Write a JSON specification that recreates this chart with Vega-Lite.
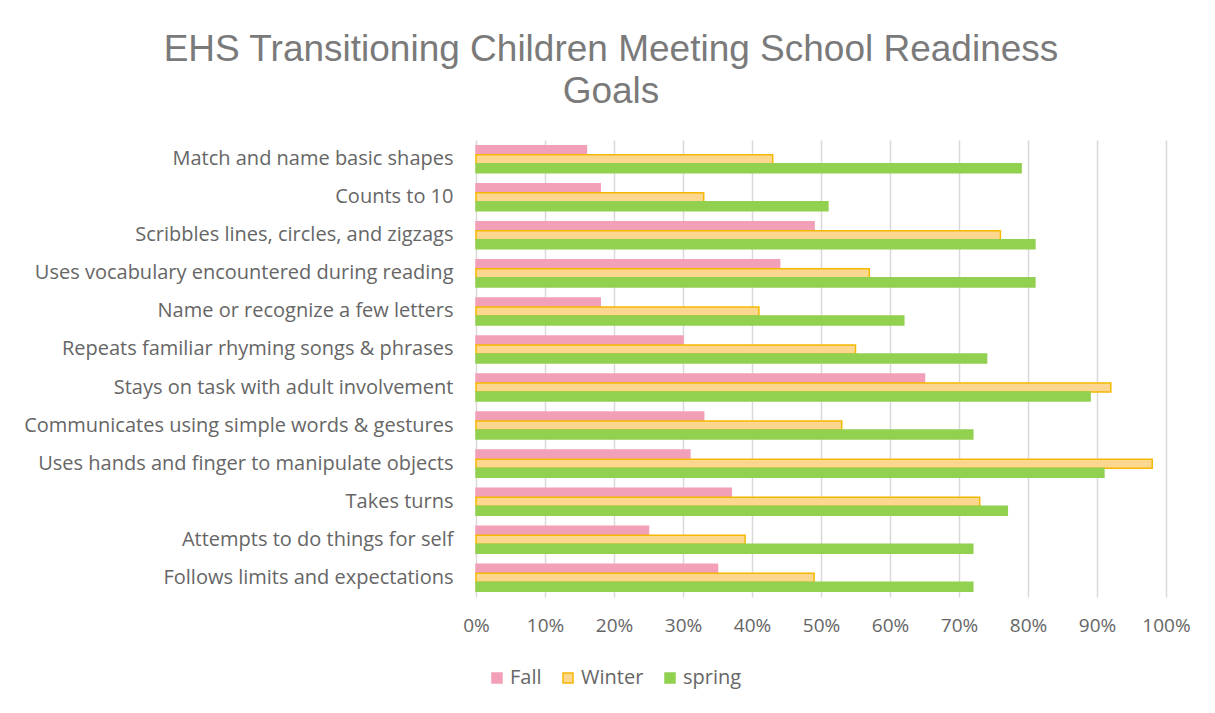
{
  "$schema": "https://vega.github.io/schema/vega-lite/v6.json",
  "width": 690,
  "height": 457,
  "autosize": {"type": "none"},
  "padding": {"left": 476, "top": 140, "right": 49, "bottom": 116},
  "background": "white",
  "title": {
    "text": ["EHS Transitioning Children Meeting School Readiness", "Goals"],
    "anchor": "middle",
    "frame": "group",
    "dx": -210,
    "offset": 29,
    "font": "Liberation Sans",
    "fontSize": 37,
    "fontWeight": "normal",
    "color": "#7a7a7a",
    "lineHeight": 42
  },
  "config": {
    "view": {"stroke": null},
    "axis": {"labelFont": "Open Sans", "labelFontSize": 20, "labelColor": "#666666"},
    "legend": {"labelFont": "Open Sans", "labelFontSize": 20, "labelColor": "#666666"}
  },
  "data": {
    "values": [
      {"skill": "Match and name basic shapes", "season": "Fall", "value": 0.16},
      {"skill": "Match and name basic shapes", "season": "Winter", "value": 0.43},
      {"skill": "Match and name basic shapes", "season": "spring", "value": 0.79},
      {"skill": "Counts to 10", "season": "Fall", "value": 0.18},
      {"skill": "Counts to 10", "season": "Winter", "value": 0.33},
      {"skill": "Counts to 10", "season": "spring", "value": 0.51},
      {"skill": "Scribbles lines, circles, and zigzags", "season": "Fall", "value": 0.49},
      {"skill": "Scribbles lines, circles, and zigzags", "season": "Winter", "value": 0.76},
      {"skill": "Scribbles lines, circles, and zigzags", "season": "spring", "value": 0.81},
      {"skill": "Uses vocabulary encountered during reading", "season": "Fall", "value": 0.44},
      {"skill": "Uses vocabulary encountered during reading", "season": "Winter", "value": 0.57},
      {"skill": "Uses vocabulary encountered during reading", "season": "spring", "value": 0.81},
      {"skill": "Name or recognize a few letters", "season": "Fall", "value": 0.18},
      {"skill": "Name or recognize a few letters", "season": "Winter", "value": 0.41},
      {"skill": "Name or recognize a few letters", "season": "spring", "value": 0.62},
      {"skill": "Repeats familiar rhyming songs & phrases", "season": "Fall", "value": 0.30},
      {"skill": "Repeats familiar rhyming songs & phrases", "season": "Winter", "value": 0.55},
      {"skill": "Repeats familiar rhyming songs & phrases", "season": "spring", "value": 0.74},
      {"skill": "Stays on task with adult involvement", "season": "Fall", "value": 0.65},
      {"skill": "Stays on task with adult involvement", "season": "Winter", "value": 0.92},
      {"skill": "Stays on task with adult involvement", "season": "spring", "value": 0.89},
      {"skill": "Communicates using simple words & gestures", "season": "Fall", "value": 0.33},
      {"skill": "Communicates using simple words & gestures", "season": "Winter", "value": 0.53},
      {"skill": "Communicates using simple words & gestures", "season": "spring", "value": 0.72},
      {"skill": "Uses hands and finger to manipulate objects", "season": "Fall", "value": 0.31},
      {"skill": "Uses hands and finger to manipulate objects", "season": "Winter", "value": 0.98},
      {"skill": "Uses hands and finger to manipulate objects", "season": "spring", "value": 0.91},
      {"skill": "Takes turns", "season": "Fall", "value": 0.37},
      {"skill": "Takes turns", "season": "Winter", "value": 0.73},
      {"skill": "Takes turns", "season": "spring", "value": 0.77},
      {"skill": "Attempts to do things for self", "season": "Fall", "value": 0.25},
      {"skill": "Attempts to do things for self", "season": "Winter", "value": 0.39},
      {"skill": "Attempts to do things for self", "season": "spring", "value": 0.72},
      {"skill": "Follows limits and expectations", "season": "Fall", "value": 0.35},
      {"skill": "Follows limits and expectations", "season": "Winter", "value": 0.49},
      {"skill": "Follows limits and expectations", "season": "spring", "value": 0.72}
    ]
  },
  "mark": {"type": "bar", "strokeWidth": 1.5},
  "encoding": {
    "y": {
      "field": "skill",
      "type": "nominal",
      "sort": null,
      "scale": {"paddingInner": 0.29, "paddingOuter": 0.15},
      "axis": {"title": null, "ticks": false, "domain": false, "labelPadding": 23, "labelLimit": 500}
    },
    "yOffset": {
      "field": "season",
      "type": "nominal",
      "scale": {"domain": ["Fall", "Winter", "spring"]}
    },
    "x": {
      "field": "value",
      "type": "quantitative",
      "scale": {"domain": [0, 1], "nice": false},
      "axis": {
        "title": null,
        "format": ".0%",
        "values": [0, 0.1, 0.2, 0.3, 0.4, 0.5, 0.6, 0.7, 0.8, 0.9, 1],
        "ticks": false,
        "domain": false,
        "labelFlush": false,
        "labelFontSize": 19,
        "gridColor": "#d9d9d9",
        "gridWidth": 1.5,
        "labelPadding": 19
      }
    },
    "fill": {
      "field": "season",
      "type": "nominal",
      "scale": {"domain": ["Fall", "Winter", "spring"], "range": ["#f2a0b8", "#fdd690", "#92d050"]},
      "legend": {
        "title": null,
        "orient": "none",
        "legendX": 11,
        "legendY": 528,
        "direction": "horizontal",
        "symbolType": "square",
        "symbolSize": 100,
        "symbolStrokeWidth": 1.5,
        "labelOffset": 3,
        "columnPadding": 16
      }
    },
    "stroke": {
      "field": "season",
      "type": "nominal",
      "scale": {"domain": ["Fall", "Winter", "spring"], "range": ["#f2a0b8", "#f5b800", "#92d050"]},
      "legend": {
        "title": null,
        "orient": "none",
        "legendX": 11,
        "legendY": 528,
        "direction": "horizontal",
        "symbolType": "square",
        "symbolSize": 100,
        "symbolStrokeWidth": 1.5,
        "labelOffset": 3,
        "columnPadding": 16
      }
    }
  }
}
